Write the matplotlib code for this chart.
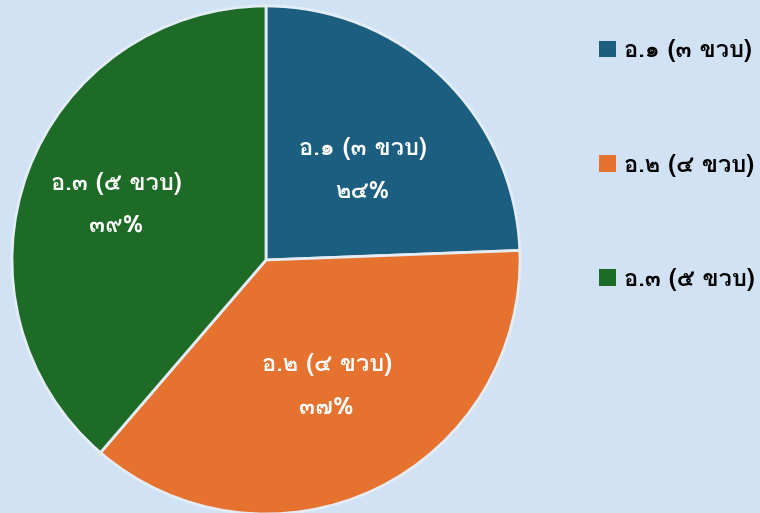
import matplotlib
matplotlib.use("Agg")
import matplotlib.pyplot as plt
from matplotlib.patches import Patch
import numpy as np

categories = ["อ.๑ (๓ ขวบ)", "อ.๒ (๔ ขวบ)", "อ.๓ (๕ ขวบ)"]
values = [24.4, 36.9, 38.7]
pct_labels = ["๒๔%", "๓๗%", "๓๙%"]
colors = ["#1b5e80", "#e6722f", "#1d6b26"]

plt.rcParams["font.family"] = ["Loma", "DejaVu Sans"]

fig = plt.figure(figsize=(7.6, 5.13), dpi=100)
fig.patch.set_facecolor("#d0e2f3")
ax = fig.add_axes([0, 0, 1, 1])
ax.set_facecolor("#d0e2f3")

cx, cy, r = 266, 253, 254
wedges, _ = ax.pie(values, colors=colors, startangle=90, counterclock=False,
                   center=(cx, cy), radius=r, frame=True,
                   wedgeprops=dict(edgecolor="#e4edf6", linewidth=2))
ax.set_xlim(0, 760)
ax.set_ylim(0, 513)
ax.set_aspect("equal")
ax.axis("off")

label_r = [0.52, 0.55, 0.63]
angle_shift = [-3, 0, 0]
for w, cat, pl, lr, sh in zip(wedges, categories, pct_labels, label_r, angle_shift):
    mid = np.deg2rad((w.theta1 + w.theta2) / 2 + sh)
    x = cx + lr * r * np.cos(mid)
    y = cy + lr * r * np.sin(mid)
    ax.text(x, y + 21, cat, ha="center", va="center", color="white",
            fontsize=17, fontweight="bold")
    ax.text(x, y - 21, pl, ha="center", va="center", color="white",
            fontsize=17, fontweight="bold")

handles = [Patch(facecolor=c, edgecolor="none") for c in colors]
fig.legend(handles, categories, loc="upper left", bbox_to_anchor=(590 / 760, 1 - 30 / 513),
           frameon=False, labelspacing=3.86, handlelength=0.7,
           handleheight=0.7, handletextpad=0.35, borderaxespad=0,
           prop=dict(weight="bold", size=17))

fig.savefig("out.png", dpi=100, facecolor=fig.get_facecolor())
